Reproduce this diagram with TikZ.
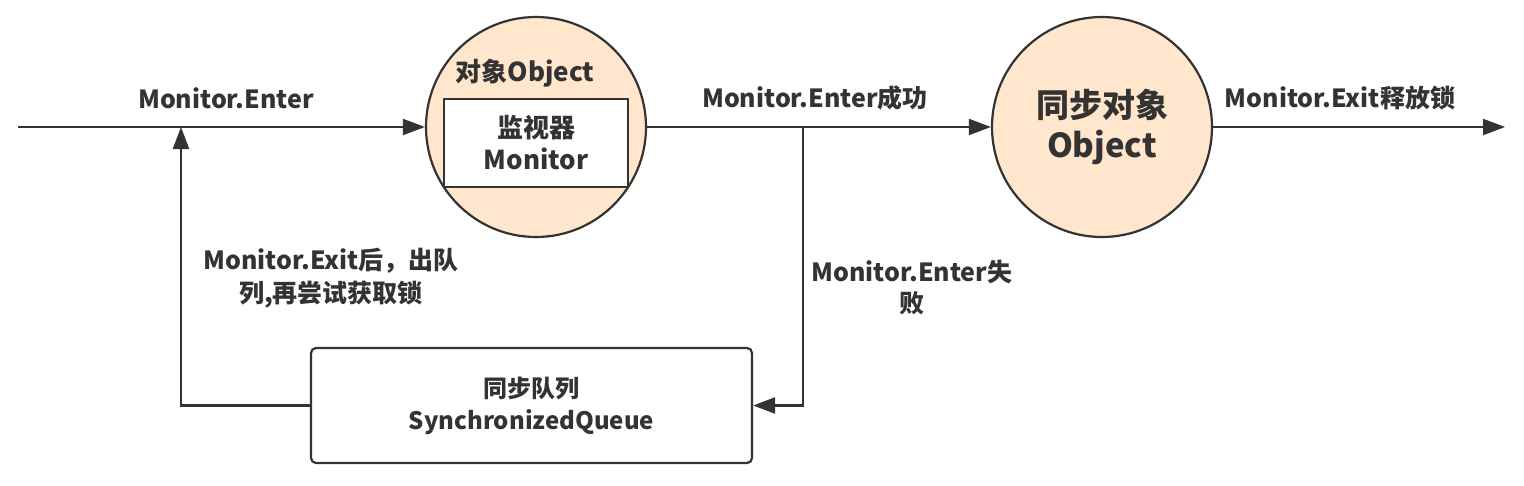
\documentclass[tikz,border=0pt]{standalone}
\usepackage{fontspec}
\setmainfont{Noto Sans CJK SC}
\usetikzlibrary{arrows.meta}
\definecolor{ink}{HTML}{333333}
\definecolor{peach}{HTML}{FFE6CC}
\begin{document}
\begin{tikzpicture}[x=1pt,y=-1pt,
  line/.style={draw=ink,line width=2.2pt},
  arr/.style={line,-{Triangle[length=22pt,width=16pt]}},
  lbl/.style={text=ink,font=\fontsize{25}{33}\selectfont\bfseries,align=center,inner sep=0pt},
  bigcirc/.style={circle,line,fill=peach,minimum size=220pt,inner sep=0pt,align=center,text=ink},
  inner/.style={line,fill=white,minimum width=184pt,minimum height=88pt,inner sep=0pt,align=center,text=ink,font=\fontsize{26}{32}\selectfont\bfseries},
  queuebox/.style={line,rounded corners=5pt,minimum width=441pt,minimum height=115pt,inner sep=0pt,align=center,text=ink,font=\fontsize{24}{32}\selectfont\bfseries}]
\useasboundingbox (0,0) rectangle (1524,485);
\node[bigcirc] (obj) at (536,127) {};
\node[inner] (mon) at (536,143) {监视器\\Monitor};
\node[lbl,font=\fontsize{26}{33}\selectfont\bfseries] (objlbl) at (525,73) {对象Object};
\node[bigcirc,font=\fontsize{33}{40}\selectfont\bfseries] (sync) at (1102,127) {同步对象\\Object};
\node[queuebox] (queue) at (531.5,405.5) {同步队列\\SynchronizedQueue};
\coordinate (start) at (18,127);
\coordinate (end) at (1505,127);
\coordinate (join) at (181,127);
\coordinate (branch) at (803,127);
\draw[arr] (start) -- (obj.west);
\draw[arr] (obj.east) -- (sync.west);
\draw[arr] (sync.east) -- (end);
\draw[arr] (branch) |- (queue.east);
\draw[arr] (queue.west) -| (join);
\node[lbl] (l1) at (226,98) {Monitor.Enter};
\node[lbl] (l2) at (815,98) {Monitor.Enter成功};
\node[lbl] (l3) at (1340,98) {Monitor.Exit释放锁};
\node[lbl,font=\fontsize{25}{31}\selectfont\bfseries] (l4) at (912,288) {Monitor.Enter失\\败};
\node[lbl] (l5) at (331,278) {Monitor.Exit后，出队\\列,再尝试获取锁};
\end{tikzpicture}
\end{document}
